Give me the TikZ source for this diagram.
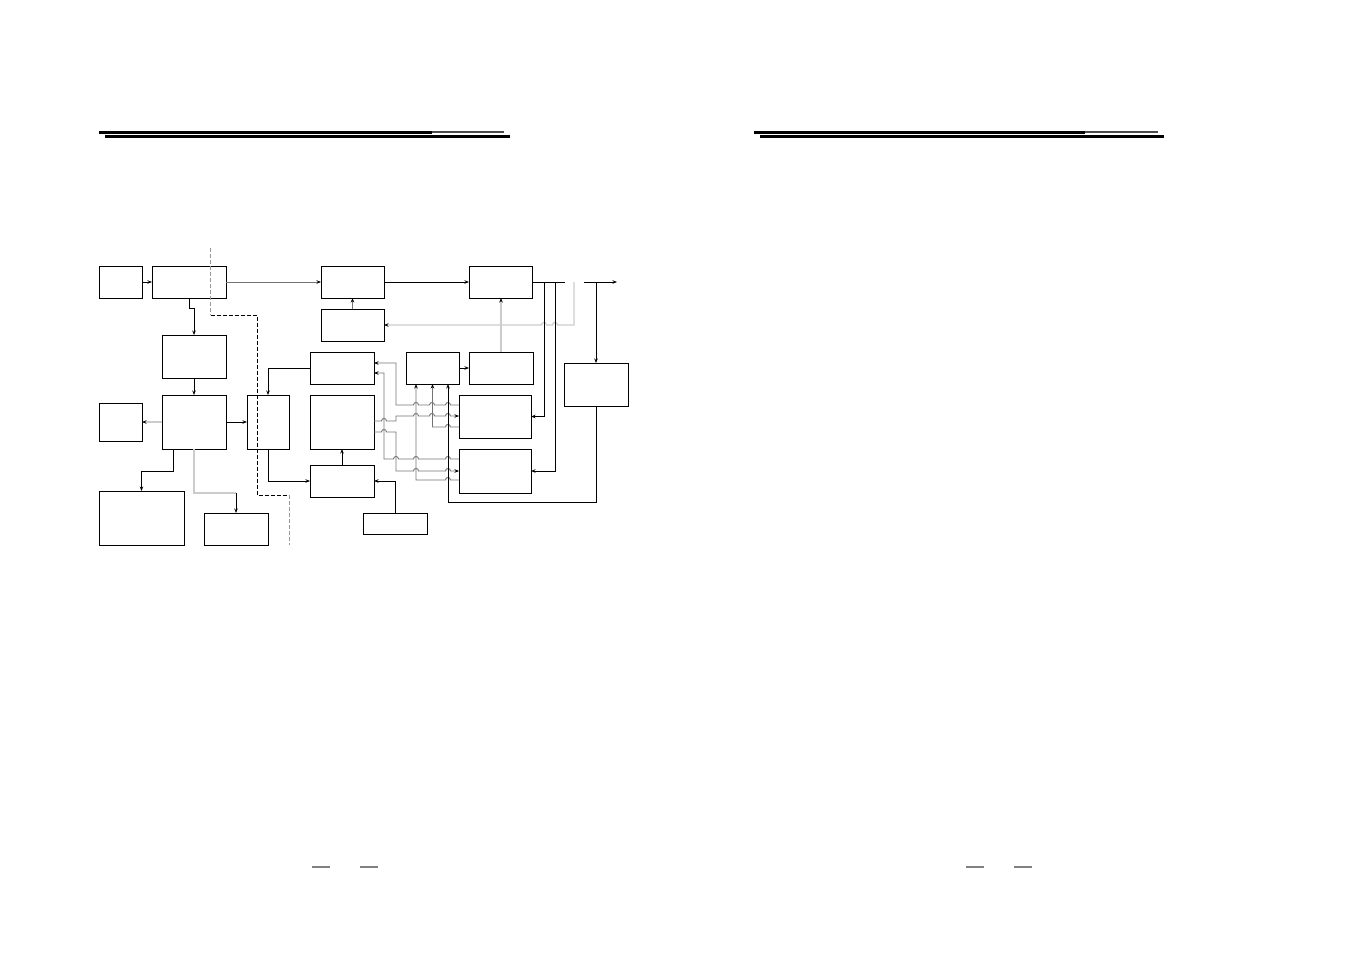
\documentclass[tikz,border=0pt]{standalone}
\usepackage{tikz}
\usetikzlibrary{arrows.meta,positioning}

% small bump where a grey line jumps over another one
\newcommand{\hopr}[2]{-- (#1-2.5,#2) .. controls (#1-2.5,#2-3.4) and (#1+2.5,#2-3.4) .. (#1+2.5,#2)}
\newcommand{\hopl}[2]{-- (#1+2.5,#2) .. controls (#1+2.5,#2-3.4) and (#1-2.5,#2-3.4) .. (#1-2.5,#2)}

\begin{document}
\begin{tikzpicture}[x=1pt, y=-1pt,
    node distance=10pt,
    blk/.style={rectangle, draw, line width=0.9pt, inner sep=0pt, outer sep=0pt, minimum width=64pt, minimum height=32pt},
    arrow/.style={->, >={Stealth[length=4.5pt,width=3.5pt]}, line width=0.9pt},
    gline/.style={line width=0.9pt, draw=black!55},
    lline/.style={line width=1.2pt, draw=black!20},
    garrow/.style={gline, ->, >={Stealth[length=4.5pt,width=3.5pt,color=black]}},
    larrow/.style={lline, ->, >={Stealth[length=4.5pt,width=3.5pt,color=black]}},
    border/.style={dash pattern=on 4pt off 2pt, line width=0.9pt}
]
\useasboundingbox (0,0) rectangle (1351,954);

% page rules
\draw[line width=3pt] (99,132.5) -- (432,132.5);
\draw[line width=1.5pt, black!70] (432,131.8) -- (504,131.8);
\draw[line width=3.5pt] (105,136.5) -- (510,136.5);
\draw[line width=3pt] (754,132.5) -- (1085,132.5);
\draw[line width=1.5pt, black!70] (1085,131.8) -- (1158,131.8);
\draw[line width=3.5pt] (760,136.5) -- (1164,136.5);
\draw[line width=1.5pt, black!50] (312,867) -- (330,867) (360,867) -- (378,867)
    (966,867) -- (984,867) (1014,867) -- (1032,867);

% left column
\node[blk, minimum width=43pt] (src) at (120.5,282) {};
\node[blk, minimum width=74pt, right=10pt of src] (front) {};
\node[blk, minimum height=43pt] (buf) at (194,356.5) {};
\node[blk, minimum height=54pt, below=17pt of buf] (core) {};
\node[blk, minimum width=43pt, minimum height=38pt, left=20pt of core] (side) {};
\node[blk, minimum width=42pt, minimum height=54pt, right=21pt of core] (link) {};
\node[blk, minimum width=85pt, minimum height=54pt] (store) at (141.5,518) {};
\node[blk] (aux) at (236,529) {};

% middle and right
\node[blk, minimum width=63pt] (mix) at (352.5,282) {};
\node[blk, minimum width=63pt, below=11pt of mix] (osc) {};
\node[blk, minimum width=63pt] (amp) at (500.5,282) {};
\node[blk] (sel) at (342,368) {};
\node[blk, minimum height=54pt, below=11pt of sel] (proc) {};
\node[blk, below=16pt of proc] (drv) {};
\node[blk, minimum height=21pt] (ref) at (395,523.5) {};
\node[blk, minimum width=53pt] (ctl) at (432.5,368) {};
\node[blk, right=10pt of ctl] (gate) {};
\node[blk, minimum width=72pt, minimum height=43pt] (det1) at (495,416.5) {};
\node[blk, minimum width=72pt, minimum height=44pt, below=11pt of det1] (det2) {};
\node[blk, minimum height=43pt] (mon) at (596,384.5) {};

\coordinate (aux-in) at (aux.north |- 0,493);
\coordinate (out-a) at (565,282);
\coordinate (out-b) at (584,282);
\coordinate (out) at (617,282);
\coordinate (tap1) at (544,282);
\coordinate (tap2) at (555,282);
\coordinate (tap3) at (596,282);
\coordinate (tap4) at (574,282);

% grey wiring
\draw[garrow] (front) -- (mix);
\draw[garrow] (osc) -- (mix);
\draw[larrow] (gate.north) -- (gate.north |- amp.south);
\draw[larrow] (tap4) -- (574,325) \hopl{555}{325} \hopl{544}{325} -- (osc.east);
\draw[larrow] (core) -- (side);
\draw[lline] (core.south) |- (aux-in);

\draw[garrow] (det1.west |- 0,405) \hopl{448}{405} \hopl{432}{405} \hopl{416}{405} -- (396,405) -- (396,363) -- (sel.east |- 0,363);
\draw[garrow] (det2.west |- 0,459) \hopl{448}{459} \hopl{416}{459} \hopl{396}{459} -- (384,459) -- (384,373) -- (sel.east |- 0,373);
\draw[garrow] (proc.east |- 0,421) \hopr{384}{421} -- (396,421) -- (396,416) \hopr{416}{416} \hopr{432}{416} \hopr{448}{416} -- (det1.west |- 0,416);
\draw[garrow] (proc.east |- 0,432) \hopr{384}{432} -- (396,432) -- (396,471) \hopr{416}{471} \hopr{448}{471} -- (det2.west |- 0,471);
\draw[garrow] (det2.west |- 0,480) \hopl{448}{480} -- (416,480) -- ([xshift=10pt]ctl.south west);
\draw[garrow] (det1.west |- 0,427) \hopl{448}{427} -- (ctl.south |- 0,427) -- (ctl.south);

% black wiring
\draw[arrow] (src) -- (front);
\draw[arrow] (front.south) -- ++(0,10) -| (buf.north);
\draw[arrow] (buf) -- (core);
\draw[arrow] (core) -- (link);
\draw[arrow] ([xshift=11pt]core.south west) -- ++(0,22) -| (store.north);
\draw[arrow] (aux-in) -- (aux);
\draw[arrow] (sel.west) -| (link.north);
\draw[arrow] (link.south) |- (drv.west);
\draw[arrow] (drv) -- (proc);
\draw[arrow] (ref.north) |- (drv.east);
\draw[arrow] (mix) -- (amp);
\draw[line width=0.9pt] (amp.east) -- (out-a);
\draw[arrow] (out-b) -- (out);
\draw[arrow] (tap1) |- (det1.east);
\draw[arrow] (tap2) |- (det2.east);
\draw[arrow] (tap3) -- (mon);
\draw[arrow] (mon.south) -- ++(0,96) -| ([xshift=-11pt]ctl.south east);
\draw[arrow] (ctl) -- (gate);

% dashed boundary
\draw[border, black!40] (210.7,248) -- (210.7,315);
\draw[border] (210.7,315) -- (257,315) -- (257,495) -- (289,495);
\draw[border, black!40] (289,495) -- (289,545);

\end{tikzpicture}
\end{document}
